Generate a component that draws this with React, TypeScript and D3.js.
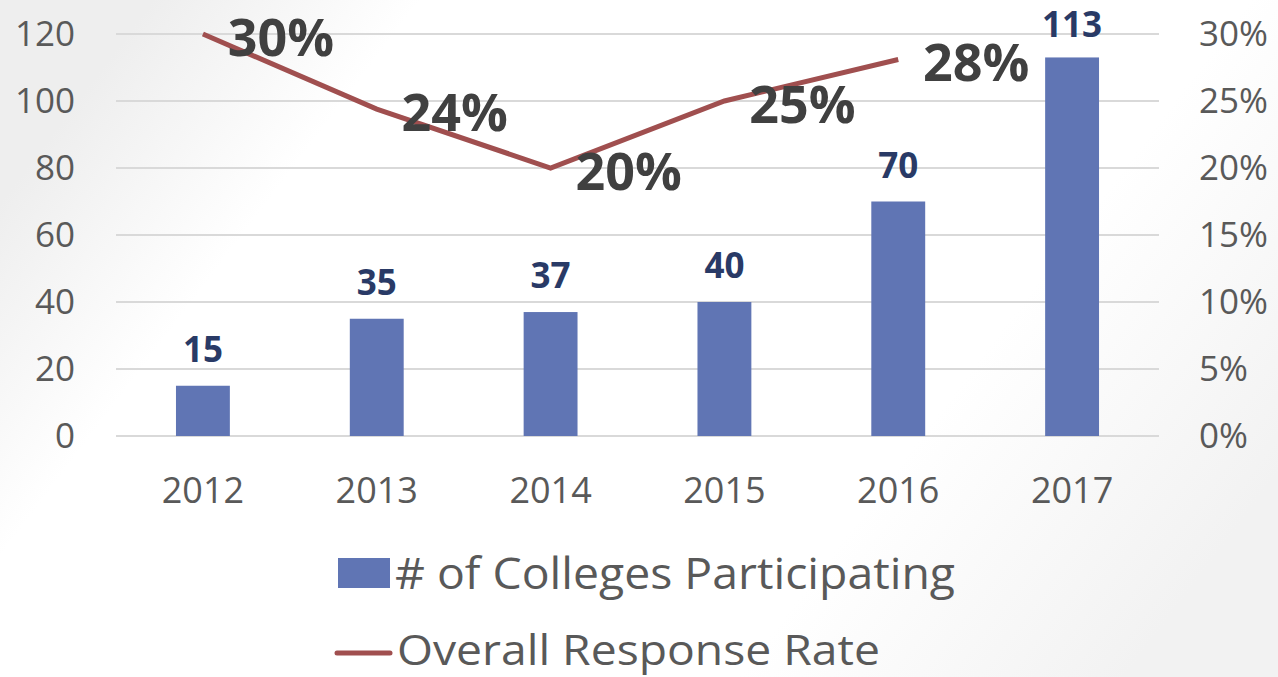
import React from "react";
import * as d3 from "d3";

const years = ["2012", "2013", "2014", "2015", "2016", "2017"];
const colleges = [15, 35, 37, 40, 70, 113];
const responseRate: (number | null)[] = [0.3, 0.244, 0.2, 0.25, 0.281, null];
const rateLabels = ["30%", "24%", "20%", "25%", "28%", ""];
const leftTicks = [0, 20, 40, 60, 80, 100, 120];
const rightTicks = [0, 0.05, 0.1, 0.15, 0.2, 0.25, 0.3];
const seriesNames = ["# of Colleges Participating", "Overall Response Rate"];

const W = 1278;
const H = 677;
const BAR = "#6075B4";
const LINE = "#A04F4F";
const AXIS_TEXT = "#595959";
const FONT = "'Open Sans', 'Noto Sans', sans-serif";

export default function App() {
  const x = d3
    .scaleBand<string>()
    .domain(years)
    .range([116, 1159])
    .paddingInner(0.69)
    .paddingOuter(0.345);
  const yL = d3.scaleLinear().domain([0, 120]).range([436, 34]);
  const yR = d3.scaleLinear().domain([0, 0.3]).range([436, 34]);
  const cx = (y: string) => (x(y) as number) + x.bandwidth() / 2;

  const pts = years.map((y, i) => ({ y, v: responseRate[i] }));
  const lineGen = d3
    .line<{ y: string; v: number | null }>()
    .defined((d) => d.v != null)
    .x((d) => cx(d.y))
    .y((d) => yR(d.v as number));

  return (
    <svg
      width={W}
      height={H}
      style={{ position: "fixed", left: 0, top: 0, display: "block" }}
      fontFamily={FONT}
    >
      <defs>
        <linearGradient id="bg" x1="0" y1="0.3" x2="1" y2="0.7">
          <stop offset="0" stopColor="#eeeeee" />
          <stop offset="0.18" stopColor="#ffffff" />
          <stop offset="0.74" stopColor="#ffffff" />
          <stop offset="1" stopColor="#f2f2f2" />
        </linearGradient>
      </defs>
      <rect x={0} y={0} width={W} height={H} fill="url(#bg)" />

      {/* gridlines */}
      {leftTicks.map((t) => (
        <line
          key={"g" + t}
          x1={116}
          x2={1159}
          y1={yL(t)}
          y2={yL(t)}
          stroke="#d9d9d9"
          strokeWidth={2}
        />
      ))}

      {/* left axis labels */}
      {leftTicks.map((t) => (
        <text
          key={"l" + t}
          x={75}
          y={yL(t) + 12}
          textAnchor="end"
          fontSize={35}
          fill={AXIS_TEXT}
        >
          {t}
        </text>
      ))}

      {/* right axis labels */}
      {rightTicks.map((t) => (
        <text
          key={"r" + t}
          x={1199}
          y={yR(t) + 12}
          textAnchor="start"
          fontSize={35}
          fill={AXIS_TEXT}
        >
          {d3.format(".0%")(t)}
        </text>
      ))}

      {/* x labels */}
      {years.map((y) => (
        <text
          key={"x" + y}
          x={cx(y)}
          y={503}
          textAnchor="middle"
          fontSize={36}
          fill={AXIS_TEXT}
        >
          {y}
        </text>
      ))}

      {/* bars */}
      {years.map((y, i) => (
        <rect
          key={"b" + y}
          x={x(y)}
          y={yL(colleges[i])}
          width={x.bandwidth()}
          height={yL(0) - yL(colleges[i])}
          fill={BAR}
        />
      ))}

      {/* bar labels */}
      {years.map((y, i) => (
        <text
          key={"bl" + y}
          x={cx(y)}
          y={Math.max(yL(colleges[i]) - 24, 37)}
          textAnchor="middle"
          fontSize={35}
          fontWeight="bold"
          fill="#293a66"
        >
          {colleges[i]}
        </text>
      ))}

      {/* line */}
      <path d={lineGen(pts) || ""} fill="none" stroke={LINE} strokeWidth={5} />

      {/* line labels */}
      {pts.map((p, i) =>
        p.v == null ? null : (
          <text
            key={"pl" + p.y}
            x={cx(p.y) + 78}
            y={yR(p.v) + 22}
            textAnchor="middle"
            fontSize={52}
            fontWeight="bold"
            fill="#404040"
          >
            {rateLabels[i]}
          </text>
        )
      )}

      {/* legend */}
      <rect x={338} y={558} width={52} height={30} fill={BAR} />
      <text
        x={395}
        y={589}
        fontSize={44}
        fill={AXIS_TEXT}
        textLength={560}
        lengthAdjust="spacingAndGlyphs"
      >
        {seriesNames[0]}
      </text>
      <line
        x1={337}
        x2={390}
        y1={653}
        y2={653}
        stroke={LINE}
        strokeWidth={5}
        strokeLinecap="round"
      />
      <text
        x={397}
        y={665}
        fontSize={42}
        fill={AXIS_TEXT}
        textLength={483}
        lengthAdjust="spacingAndGlyphs"
      >
        {seriesNames[1]}
      </text>
    </svg>
  );
}
